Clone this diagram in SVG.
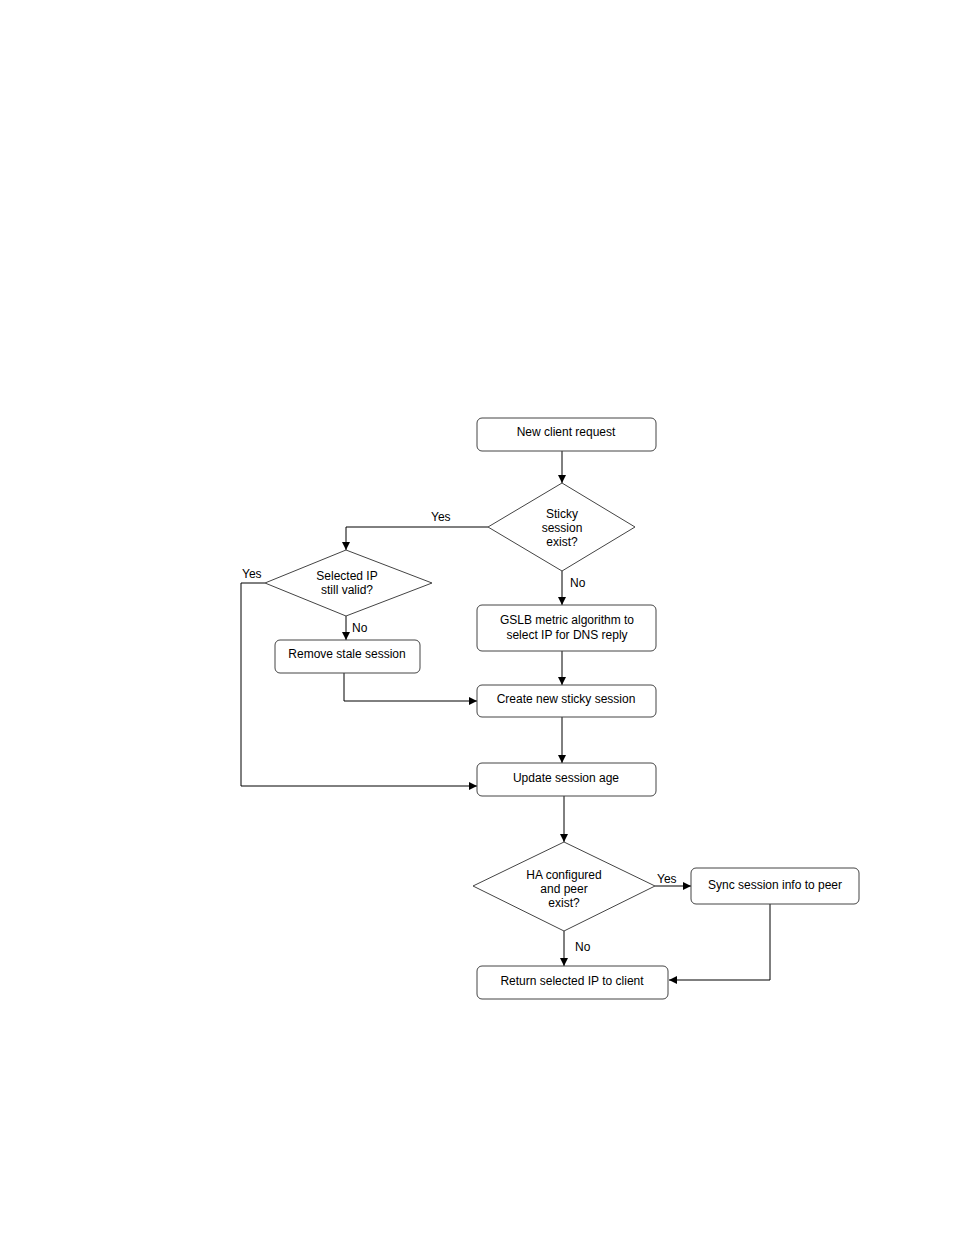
<svg xmlns="http://www.w3.org/2000/svg" width="954" height="1235" viewBox="0 0 954 1235">
<defs>
<marker id="ah" markerWidth="8" markerHeight="8" refX="8" refY="4" orient="auto" markerUnits="userSpaceOnUse">
<path d="M0,0 L8,4 L0,8 Z" fill="#000"/>
</marker>
<style>
.box{fill:#fff;stroke:#444;stroke-width:1}
.dia{fill:#fff;stroke:#444;stroke-width:1}
.t{font-family:"Liberation Sans",Arial,sans-serif;font-size:12px;fill:#000;text-anchor:middle}
.l{font-family:"Liberation Sans",Arial,sans-serif;font-size:12px;fill:#000}
.c{fill:none;stroke:#000;stroke-width:1}
</style>
</defs>
<rect width="954" height="1235" fill="#fff"/>
<g id="connectors">
<path class="c" d="M562,451 V483" marker-end="url(#ah)"/>
<path class="c" d="M488,527 H346 V550" marker-end="url(#ah)"/>
<path class="c" d="M562,571 V605" marker-end="url(#ah)"/>
<path class="c" d="M265,583 H241 V786 H477" marker-end="url(#ah)"/>
<path class="c" d="M346,616 V640" marker-end="url(#ah)"/>
<path class="c" d="M344,673 V701 H477" marker-end="url(#ah)"/>
<path class="c" d="M562,651 V685" marker-end="url(#ah)"/>
<path class="c" d="M562,717 V763" marker-end="url(#ah)"/>
<path class="c" d="M564,796 V842" marker-end="url(#ah)"/>
<path class="c" d="M655,886 H691" marker-end="url(#ah)"/>
<path class="c" d="M564,931 V966" marker-end="url(#ah)"/>
<path class="c" d="M770,904 V980 H669" marker-end="url(#ah)"/>
<text class="l" x="431" y="521">Yes</text>
<text class="l" x="570" y="587">No</text>
<text class="l" x="242" y="578">Yes</text>
<text class="l" x="352" y="632">No</text>
<text class="l" x="657" y="883">Yes</text>
<text class="l" x="575" y="951">No</text>
</g>
<g id="n1"><rect class="box" x="477" y="418" width="179" height="33" rx="5"/><text class="t" x="566" y="436">New client request</text></g>
<g id="n2"><polygon class="dia" points="562,483 635,527 562,571 488,527"/><text class="t" x="562" y="518">Sticky</text><text class="t" x="562" y="532">session</text><text class="t" x="562" y="546">exist?</text></g>
<g id="n3"><polygon class="dia" points="346,550 432,583 346,616 265,583"/><text class="t" x="347" y="580">Selected IP</text><text class="t" x="347" y="594">still valid?</text></g>
<g id="n4"><rect class="box" x="275" y="640" width="145" height="33" rx="5"/><text class="t" x="347" y="658">Remove stale session</text></g>
<g id="n5"><rect class="box" x="477" y="605" width="179" height="46" rx="5"/><text class="t" x="567" y="624">GSLB metric algorithm to</text><text class="t" x="567" y="639">select IP for DNS reply</text></g>
<g id="n6"><rect class="box" x="477" y="685" width="179" height="32" rx="5"/><text class="t" x="566" y="703">Create new sticky session</text></g>
<g id="n7"><rect class="box" x="477" y="763" width="179" height="33" rx="5"/><text class="t" x="566" y="782">Update session age</text></g>
<g id="n8"><polygon class="dia" points="564,842 655,886 564,931 473,886"/><text class="t" x="564" y="879">HA configured</text><text class="t" x="564" y="893">and peer</text><text class="t" x="564" y="907">exist?</text></g>
<g id="n9"><rect class="box" x="691" y="868" width="168" height="36" rx="5"/><text class="t" x="775" y="889">Sync session info to peer</text></g>
<g id="n10"><rect class="box" x="477" y="966" width="191" height="33" rx="5"/><text class="t" x="572" y="985">Return selected IP to client</text></g>
</svg>
